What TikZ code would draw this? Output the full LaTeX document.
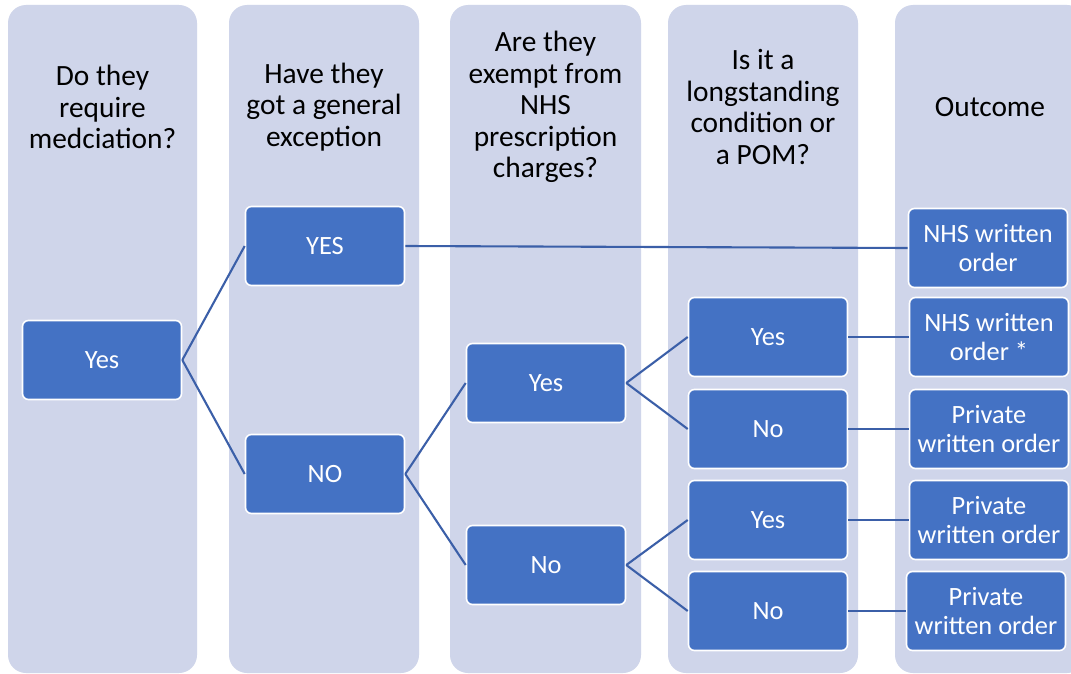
\documentclass[tikz,border=0pt]{standalone}
\usepackage{fontspec}
\setmainfont{Carlito}
\usepackage{tikz}
\usetikzlibrary{positioning}
\definecolor{lane}{RGB}{207,213,234}
\definecolor{accent}{RGB}{68,114,196}
\definecolor{wire}{RGB}{59,95,168}
\tikzset{
hd/.style={
  align=center,
  text=black,
  font=\fontsize{29.5}{31.7}\selectfont
  },
b/.style={
  rectangle,
  rounded corners=6bp,
  draw=white,
  line width=1.6bp,
  fill=accent,
  text=white,
  minimum width=159bp,
  minimum height=79bp,
  inner sep=2bp,
  align=center,
  font=\fontsize{26.5}{28.8}\selectfont
  }
}

\begin{document}
\begin{tikzpicture}[x=1bp,y=-1bp,line width=2.1bp]
\clip (0,0) rectangle (1071,674);
\fill[white] (0,0) rectangle (1071,674);
\foreach \l/\r in {8/197,229/419,450/641,668/858,895/1085}
  \fill[lane,rounded corners=18bp] (\l,5) rectangle (\r,673);
\node[hd] (h1) at (102.5,107) {Do they\\require\\medciation?};
\node[hd] (h2) at (324,107) {Have they\\got a general\\exception};
\node[hd] (h3) at (545.5,107) {Are they\\exempt from\\NHS\\prescription\\charges?};
\node[hd] (h4) at (763,107) {Is it a\\longstanding\\condition or\\a POM?};
\node[hd] (h5) at (990,107) {Outcome};
;
\node[b] (y1) at (102,360) {Yes};
\node[b] (g1) at (325,246) {YES};
\node[b] (g2) at (325,474) {NO};
\node[b] (e1) at (546,383) {Yes};
\node[b] (e2) at (546,565) {No};
\node[b] (l1) at (768,337) {Yes};
\node[b] (l2) at (768,429) {No};
\node[b] (l3) at (768,520) {Yes};
\node[b] (l4) at (768,611) {No};
\node[b] (o1) at (988,248) {NHS written\\order};
\node[b] (o2) at (989,337) {NHS written\\order *};
\node[b] (o3) at (989,429) {Private\\written order};
\node[b] (o4) at (989,520) {Private\\written order};
\node[b] (o5) at (986,611) {Private\\written order};
\path[draw=wire]
(y1.east) edge [] (g1.west)
(y1.east) edge [] (g2.west)
(g1.east) edge [] (o1.west)
(g2.east) edge [] (e1.west)
(g2.east) edge [] (e2.west)
(e1.east) edge [] (l1.west)
(e1.east) edge [] (l2.west)
(e2.east) edge [] (l3.west)
(e2.east) edge [] (l4.west)
(l1.east) edge [] (o2.west)
(l2.east) edge [] (o3.west)
(l3.east) edge [] (o4.west)
(l4.east) edge [] (o5.west)
;
\end{tikzpicture}
\end{document}
